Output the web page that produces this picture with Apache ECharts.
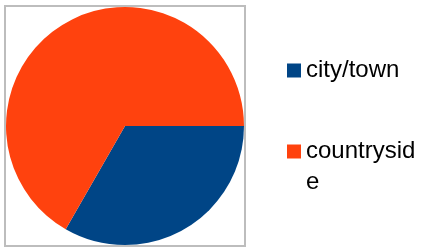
<!DOCTYPE html>
<html>
<head>
<meta charset="utf-8">
<script src="https://cdn.jsdelivr.net/npm/echarts@6/dist/echarts.min.js"></script>
<style>
  html, body { margin: 0; padding: 0; background: #fff; }
  #chart { width: 425px; height: 249px; }
</style>
</head>
<body>
<div id="chart"></div>
<script>
var categories = ['city/town', 'countryside'];
var shares = [33.3, 66.7];
var sliceColors = ['#004586', '#ff420e'];

var pieData = categories.map(function (name, i) {
    return { name: name, value: shares[i], itemStyle: { color: sliceColors[i] } };
});

// one legend per entry; the second one uses a tall icon box whose square
// sits at the top, so the wrapped label hangs below the marker
function legendFor(name, top, boxH, icon) {
    return {
        orient: 'vertical',
        left: 287,
        top: top,
        padding: 0,
        itemWidth: 14,
        itemHeight: boxH,
        icon: icon,
        textStyle: {
            fontFamily: 'Liberation Sans',
            fontSize: 24,
            color: '#000',
            lineHeight: 31,
            width: 116,
            overflow: 'breakAll'
        },
        data: [name]
    };
}

var myChart = echarts.init(document.getElementById('chart'), null, { renderer: 'canvas' });
var option = {
    animation: false,
    backgroundColor: '#fff',
    graphic: [
        {
            type: 'rect',
            shape: { x: 5, y: 6, width: 240, height: 240 },
            style: { fill: 'none', stroke: '#bdbdbd', lineWidth: 2 },
            silent: true
        }
    ],
    legend: [
        legendFor(categories[0], 55, 14, 'rect'),
        legendFor(categories[1], 136, 45, 'path://M0,0H14V14H0Z M0,45')
    ],
    series: [
        {
            type: 'pie',
            center: [125, 126],
            radius: 119,
            startAngle: 0,
            clockwise: true,
            label: { show: false },
            labelLine: { show: false },
            emphasis: { disabled: true },
            data: pieData
        }
    ]
};
myChart.setOption(option);
</script>
</body>
</html>
